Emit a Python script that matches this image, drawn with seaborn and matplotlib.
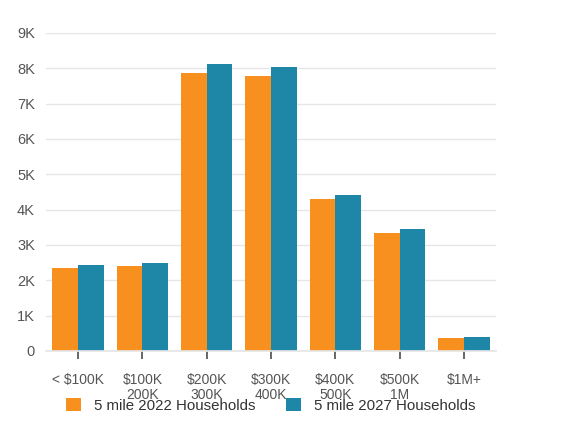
import matplotlib
matplotlib.use("Agg")
import matplotlib.pyplot as plt
import seaborn as sns
import pandas as pd
from matplotlib.ticker import FixedLocator, FuncFormatter

categories = ["< $100K", "$100K\n200K", "$200K\n300K", "$300K\n400K", "$400K\n500K", "$500K\n1M", "$1M+"]
hh_2022 = [2350, 2410, 7870, 7790, 4310, 3340, 370]
hh_2027 = [2440, 2490, 8130, 8050, 4420, 3460, 400]
series = ["5 mile 2022 Households", "5 mile 2027 Households"]
colors = ["#F7901E", "#1E87A8"]

df = pd.DataFrame({
    "cat": categories * 2,
    "val": hh_2022 + hh_2027,
    "series": [series[0]] * len(categories) + [series[1]] * len(categories),
})

sns.set_theme(style="white")
plt.rcParams["font.family"] = ["Liberation Sans", "DejaVu Sans"]

fig = plt.figure(figsize=(5.67, 4.26), dpi=100)
ax = fig.add_axes([46 / 567, 1 - 351 / 426, (496 - 46) / 567, (351 - 33) / 426])

sns.barplot(data=df, x="cat", y="val", hue="series", palette=colors, ax=ax,
            width=0.8, saturation=1, gap=0, linewidth=0, legend=True)

ax.set_ylim(0, 9000)
ax.yaxis.set_major_locator(FixedLocator(range(0, 9001, 1000)))
ax.yaxis.set_major_formatter(FuncFormatter(lambda v, p: "0" if v == 0 else f"{int(v/1000)}K"))
ax.set_xlim(-0.5, len(categories) - 0.5)
ax.grid(axis="y", color="#e6e6e6", linewidth=1)
ax.set_axisbelow(True)
for s in ["top", "right", "left"]:
    ax.spines[s].set_visible(False)
ax.spines["bottom"].set_color("#e6e6e6")
ax.set_xlabel("")
ax.set_ylabel("")
ax.tick_params(axis="y", length=0, labelsize=10.5, labelcolor="#555555", pad=8)
ax.tick_params(axis="x", length=6, width=1.4, color="#666666", bottom=True,
               labelsize=10, labelcolor="#555555", pad=10)
for lbl in ax.get_xticklabels():
    lbl.set_linespacing(1.05)

leg = ax.legend(loc="upper left", bbox_to_anchor=(0.044, -0.148), ncol=2, frameon=False,
                fontsize=10.8, handlelength=1.0, handleheight=1.0, columnspacing=2.0,
                handletextpad=0.9, borderaxespad=0, borderpad=0)
for t in leg.get_texts():
    t.set_color("#333333")

fig.savefig("out.png", dpi=100, facecolor="white")
